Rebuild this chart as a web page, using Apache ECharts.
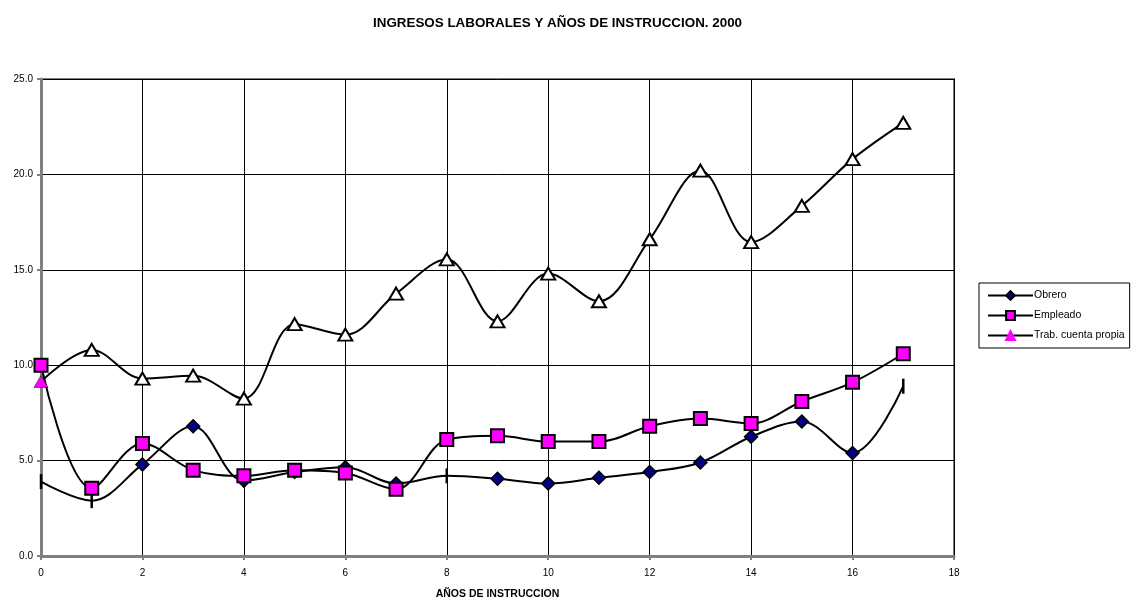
<!DOCTYPE html>
<html>
<head>
<meta charset="utf-8">
<title>Ingresos laborales</title>
<script src="https://cdn.jsdelivr.net/npm/echarts@6/dist/echarts.min.js"></script>
<style>
  html, body { margin: 0; padding: 0; background: #fff; }
  #chart { width: 1139px; height: 599px; }
</style>
</head>
<body>
<div id="chart"></div>
<script>
// años de instrucción
const years = [0, 1, 2, 3, 4, 5, 6, 7, 8, 9, 10, 11, 12, 13, 14, 15, 16, 17]
const obrero = [3.9, 2.9, 4.8, 6.8, 3.95, 4.4, 4.65, 3.8, 4.2, 4.05, 3.8, 4.1, 4.4, 4.9, 6.25, 7.05, 5.4, 8.9]
const empleado = [10.0, 3.55, 5.9, 4.5, 4.2, 4.5, 4.35, 3.5, 6.1, 6.3, 6.0, 6.0, 6.8, 7.2, 6.95, 8.1, 9.1, 10.6]
const cuentaPropia = [9.15, 10.8, 9.3, 9.45, 8.25, 12.15, 11.6, 13.75, 15.55, 12.3, 14.8, 13.35, 16.6, 20.2, 16.45, 18.35, 20.8, 22.7]
// puntos de Obrero que se ven como una raya vertical
const obreroTicks = [0, 1, 8, 17]

const chartDom = document.getElementById('chart')
const myChart = echarts.init(chartDom)

const font = 'Liberation Sans, Arial, sans-serif'

const obreroData = years.map((x, i) => {
  const item = { value: [x, obrero[i]] }
  if (obreroTicks.indexOf(i) >= 0) {
    item.symbol = 'rect'
    item.symbolSize = [2.5, 15]
    item.itemStyle = { color: '#000', borderWidth: 0 }
  }
  return item
})
const empleadoData = years.map((x, i) => [x, empleado[i]])
const propiaData = years.map((x, i) => {
  const item = { value: [x, cuentaPropia[i]] }
  // el primer punto sale relleno en magenta
  if (i === 0) item.itemStyle = { color: '#ff00ff', borderColor: '#000', borderWidth: 0.5 }
  return item
})

const option = {
  animation: false,
  backgroundColor: '#fff',
  title: {
    text: 'INGRESOS LABORALES Y AÑOS DE INSTRUCCION. 2000',
    left: 368,
    top: 12,
    textStyle: { fontFamily: font, fontSize: 13.4, fontWeight: 'bold', color: '#000' }
  },
  legend: {
    orient: 'vertical',
    left: 979,
    top: 283,
    padding: [7, 5, 7, 8],
    itemGap: 9,
    itemWidth: 45,
    itemHeight: 11,
    borderColor: '#000',
    borderWidth: 1,
    textStyle: { fontFamily: font, fontSize: 10.5, color: '#000', padding: [0, 0, 0, -4] },
    data: [
      { name: 'Obrero' },
      { name: 'Empleado' },
      { name: 'Trab. cuenta propia', itemStyle: { color: '#ff00ff', borderColor: '#ff00ff' } }
    ]
  },
  grid: {
    left: 41,
    right: 185,
    top: 79,
    bottom: 43,
    outerBoundsMode: 'none',
    containLabel: false,
    show: true,
    borderColor: '#808080',
    borderWidth: 2
  },
  xAxis: {
    type: 'value',
    min: 0,
    max: 18,
    interval: 2,
    name: 'AÑOS DE INSTRUCCION',
    nameLocation: 'middle',
    nameGap: 33,
    nameTextStyle: { fontFamily: font, fontSize: 10.5, fontWeight: 'bold', color: '#000' },
    axisLine: { lineStyle: { color: '#808080', width: 3 } },
    axisTick: { length: 4, lineStyle: { color: '#808080', width: 2 } },
    axisLabel: { fontFamily: font, fontSize: 10, color: '#000', margin: 12 },
    splitLine: { show: true, lineStyle: { color: '#000', width: 1 } }
  },
  yAxis: {
    type: 'value',
    min: 0,
    max: 25,
    interval: 5,
    axisLine: { show: true, lineStyle: { color: '#808080', width: 3 } },
    axisTick: { show: true, length: 4, lineStyle: { color: '#808080', width: 2 } },
    axisLabel: {
      fontFamily: font, fontSize: 10, color: '#000', margin: 8,
      formatter: v => v.toFixed(1)
    },
    splitLine: { show: true, lineStyle: { color: '#000', width: 1 } }
  },
  series: [
    {
      name: 'Obrero',
      type: 'line',
      smooth: 0.35,
      data: obreroData,
      symbol: 'diamond',
      symbolSize: 13,
      lineStyle: { color: '#000', width: 2 },
      itemStyle: { color: '#000080', borderColor: '#000', borderWidth: 1.5 },
      z: 2
    },
    {
      name: 'Empleado',
      type: 'line',
      smooth: 0.35,
      data: empleadoData,
      symbol: 'rect',
      symbolSize: 13,
      lineStyle: { color: '#000', width: 2 },
      itemStyle: { color: '#ff00ff', borderColor: '#000', borderWidth: 2 },
      z: 3
    },
    {
      name: 'Trab. cuenta propia',
      type: 'line',
      smooth: 0.35,
      data: propiaData,
      symbol: 'triangle',
      symbolSize: [14, 12],
      lineStyle: { color: '#000', width: 2 },
      itemStyle: { color: '#fff', borderColor: '#000', borderWidth: 2 },
      z: 4
    }
  ]
}

option && myChart.setOption(option)
</script>
</body>
</html>
